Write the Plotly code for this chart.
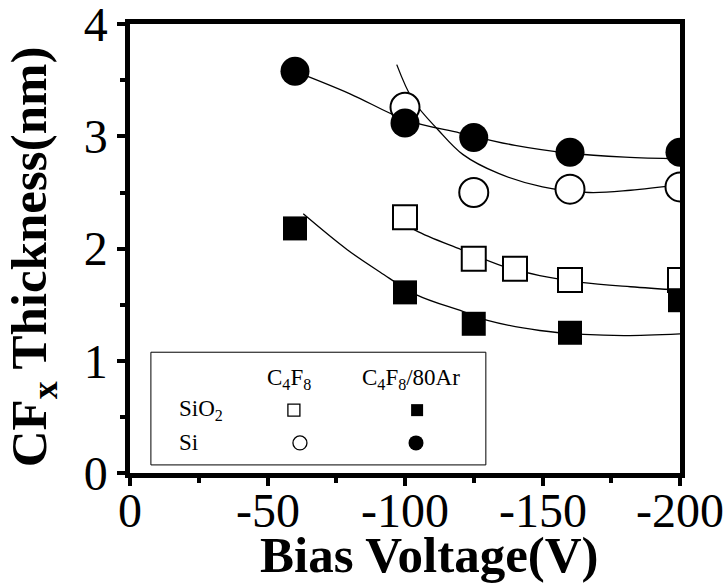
import plotly.graph_objects as go

# Measured CFx film thickness (nm) versus substrate bias voltage (V)
bias_sio2_c4f8 = [-100, -125, -140, -160, -200]
thk_sio2_c4f8 = [2.28, 1.91, 1.82, 1.72, 1.72]

bias_sio2_ar = [-60, -100, -125, -160, -200]
thk_sio2_ar = [2.18, 1.61, 1.33, 1.25, 1.54]

bias_si_c4f8 = [-100, -125, -160, -200]
thk_si_c4f8 = [3.26, 2.50, 2.53, 2.55]

bias_si_ar = [-60, -100, -125, -160, -200]
thk_si_ar = [3.58, 3.12, 2.99, 2.86, 2.86]

# Trend curves through each data set
fit_si_ar_x = [-60, -80, -100, -120, -140, -160, -180, -200]
fit_si_ar_y = [3.58, 3.38, 3.15, 3.03, 2.92, 2.85, 2.815, 2.80]

fit_si_c4f8_x = [-97, -103, -112, -121, -134, -150, -167, -182, -200]
fit_si_c4f8_y = [3.64, 3.32, 3.06, 2.84, 2.67, 2.55, 2.50, 2.52, 2.57]

fit_sio2_c4f8_x = [-96.5, -104, -120.5, -136, -149, -164, -182, -200]
fit_sio2_c4f8_y = [2.28, 2.16, 1.99, 1.84, 1.76, 1.70, 1.66, 1.63]

fit_sio2_ar_x = [-63, -79, -91, -104, -121, -130, -149, -165, -180, -200]
fit_sio2_ar_y = [2.31, 1.99, 1.79, 1.59, 1.44, 1.36, 1.27, 1.235, 1.225, 1.24]

x_ticks = [0, -50, -100, -150, -200]
x_tick_text = ["0", "-50", "-100", "-150", "-200"]
y_ticks = [0, 1, 2, 3, 4]

FONT = "Liberation Serif"
BLACK = "black"

fig = go.Figure()

for fx, fy in [(fit_si_ar_x, fit_si_ar_y), (fit_si_c4f8_x, fit_si_c4f8_y),
               (fit_sio2_c4f8_x, fit_sio2_c4f8_y), (fit_sio2_ar_x, fit_sio2_ar_y)]:
    fig.add_trace(go.Scatter(x=fx, y=fy, mode="lines",
                             line=dict(color=BLACK, width=1.3, shape="spline", smoothing=1.0),
                             hoverinfo="skip", showlegend=False))

def marker_trace(x, y, symbol, size, filled, lw=2, **kw):
    return go.Scatter(
        x=x, y=y, mode="markers", showlegend=False,
        marker=dict(symbol=symbol, size=size,
                    color=BLACK if filled else "white",
                    line=dict(color=BLACK, width=0 if filled else lw)), **kw)

fig.add_trace(marker_trace(bias_sio2_c4f8, thk_sio2_c4f8, "square", 24, False))
fig.add_trace(marker_trace(bias_sio2_ar, thk_sio2_ar, "square", 24, True))
fig.add_trace(marker_trace(bias_si_c4f8, thk_si_c4f8, "circle", 29, False))
fig.add_trace(marker_trace(bias_si_ar, thk_si_ar, "circle", 29, True))

# Key symbols, placed on a hidden unit overlay axis
key_opts = dict(xaxis="x2", yaxis="y2", hoverinfo="skip", cliponaxis=False)
fig.add_trace(marker_trace([0.298], [0.140], "square", 12, False, lw=1.3, **key_opts))
fig.add_trace(marker_trace([0.522], [0.140], "square", 12, True, **key_opts))
fig.add_trace(marker_trace([0.309], [0.067], "circle", 14, False, lw=1.3, **key_opts))
fig.add_trace(marker_trace([0.520], [0.067], "circle", 15, True, **key_opts))

tick_font = dict(family=FONT, size=48, color=BLACK)
axis_common = dict(
    showgrid=False, zeroline=False, showline=True, linecolor=BLACK, linewidth=4.5,
    mirror=True, ticks="outside", tickcolor=BLACK, tickwidth=4, tickfont=tick_font,
    ticklabeloverflow="allow", automargin=False,
)

fig.update_layout(
    width=724, height=584,
    margin=dict(l=130, r=44, t=24, b=111),
    plot_bgcolor="white", paper_bgcolor="white",
    xaxis=dict(range=[0, -200], tickvals=x_ticks, ticklen=8, showticklabels=False,
               minor=dict(dtick=25, ticks="outside", ticklen=5, tickwidth=4, tickcolor=BLACK,
                          showgrid=False),
               **axis_common),
    yaxis=dict(range=[0, 4.002], tickvals=y_ticks, ticklen=8,
               minor=dict(dtick=0.5, ticks="outside", ticklen=5, tickwidth=4, tickcolor=BLACK,
                          showgrid=False),
               **axis_common),
    xaxis2=dict(range=[0, 1], overlaying="x", visible=False, fixedrange=True, automargin=False),
    yaxis2=dict(range=[0, 1], overlaying="y", visible=False, fixedrange=True, automargin=False),
)

# Bias tick labels, set just under the axis at each tick value
for xv, label in zip(x_ticks, x_tick_text):
    fig.add_annotation(text=label, x=xv, y=-0.083, xref="x", yref="paper",
                       xanchor="center", yanchor="middle", showarrow=False, font=tick_font)

# Key frame
fig.add_shape(type="rect", xref="paper", yref="paper",
              x0=0.038, x1=0.647, y0=0.018, y1=0.269,
              line=dict(color=BLACK, width=1), layer="below")

key_font = dict(family=FONT, size=23, color=BLACK)
key_labels = [
    ("C<sub>4</sub>F<sub>8</sub>", 0.289, 0.210, "center"),
    ("C<sub>4</sub>F<sub>8</sub>/80Ar", 0.418, 0.210, "left"),
    ("SiO<sub>2</sub>", 0.085, 0.140, "left"),
    ("Si", 0.085, 0.067, "left"),
]
for text, x, y, anchor in key_labels:
    fig.add_annotation(text=text, x=x, y=y, xref="paper", yref="paper",
                       xanchor=anchor, yanchor="middle", showarrow=False, font=key_font)

# Axis titles
fig.add_annotation(text="<b>Bias Voltage(V)</b>", x=0.545, y=-0.183, xref="paper", yref="paper",
                   xanchor="center", yanchor="middle", showarrow=False,
                   font=dict(family=FONT, size=51, color=BLACK))
fig.add_annotation(text="<b>CF<sub>x</sub> Thickness(nm)</b>", x=-0.176, y=0.481,
                   xref="paper", yref="paper", xanchor="center", yanchor="middle",
                   textangle=-90, showarrow=False,
                   font=dict(family=FONT, size=51, color=BLACK))

fig.write_html("out.html")
